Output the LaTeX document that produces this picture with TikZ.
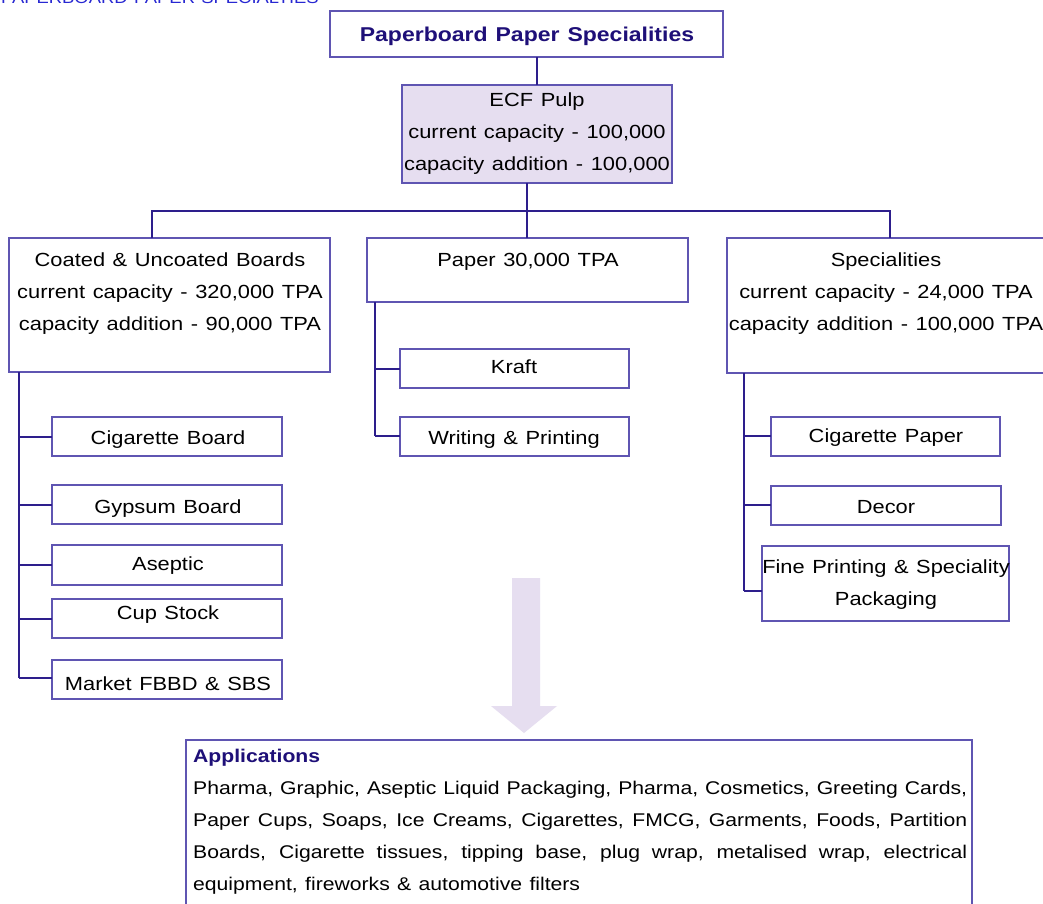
\documentclass[tikz,border=0pt]{standalone}
\usepackage{fontspec}
\setmainfont{Liberation Sans}[FakeStretch=1.15,WordSpace=1.25]
\definecolor{bord}{RGB}{95,85,178}
\definecolor{conn}{RGB}{45,30,140}
\definecolor{navy}{RGB}{30,15,120}
\definecolor{lav}{RGB}{230,222,240}
\definecolor{hdr}{RGB}{40,40,210}
\tikzset{
  boxst/.style={draw=bord, line width=1.2pt, inner sep=0pt, outer sep=0pt},
  lnk/.style={draw=conn, line width=1.2pt},
  txt/.style={inner sep=0pt, outer sep=0pt, align=center, yshift=-3pt, font=\fontsize{19}{32}\selectfont, text=black},
}
\newcommand\mybox[6][]{%
  \node[boxst,#1, minimum width={(#5-#3)*1pt}, minimum height={(#6-#4)*1pt}] (#2) at ({(#3+#5)/2},{(#4+#6)/2}) {};}
\newcommand\fullline[1]{\makebox[774pt][s]{#1}}
\begin{document}
\begin{tikzpicture}[x=1pt,y=-1pt]
\useasboundingbox (0,0) rectangle (1043,903);
\clip (0,0) rectangle (1043,903);
\fill[white] (0,0) rectangle (1043,903);
% header
\node[anchor=base west, inner sep=0pt, text=hdr, font=\fontsize{16}{16}\selectfont] (hdr) at (1,3) {PAPERBOARD PAPER SPECIALTIES};
% top boxes
\mybox{title}{330}{11}{723}{57}
\node[txt, text=navy, font=\fontsize{20}{24}\selectfont\bfseries] (titleT) at (527,33) {Paperboard Paper Specialities};
\mybox[fill=lav]{ecf}{402}{85}{672}{183}
\node[txt] (ecfT) at (537,131) {ECF Pulp\\current capacity - 100,000\\capacity addition - 100,000};
\mybox{coated}{9}{238}{330}{372}
\node[txt] (coatedT) at (170,291) {Coated \& Uncoated Boards\\current capacity - 320,000 TPA\\capacity addition - 90,000 TPA};
\mybox{paper}{367}{238}{688}{302}
\node[txt] (paperT) at (528,259) {Paper 30,000 TPA};
\mybox{spec}{727}{238}{1060}{373}
\node[txt] (specT) at (886,291) {Specialities\\current capacity - 24,000 TPA\\capacity addition - 100,000 TPA};
% coated children
\mybox{cb}{52}{417}{282}{456}
\node[txt] (cbT) at (168,437) {Cigarette Board};
\mybox{gb}{52}{485}{282}{524}
\node[txt] (gbT) at (168,506) {Gypsum Board};
\mybox{as}{52}{545}{282}{585}
\node[txt] (asT) at (168,563) {Aseptic};
\mybox{cs}{52}{599}{282}{638}
\node[txt] (csT) at (168,612) {Cup Stock};
\mybox{mk}{52}{660}{282}{699}
\node[txt] (mkT) at (168,681) {Market FBBD \& SBS};
% paper children
\mybox{kr}{400}{349}{629}{388}
\node[txt] (krT) at (514,364) {Kraft};
\mybox{wp}{400}{417}{629}{456}
\node[txt] (wpT) at (514,437) {Writing \& Printing};
% spec children
\mybox{cp}{771}{417}{1000}{456}
\node[txt] (cpT) at (886,435) {Cigarette Paper};
\mybox{dc}{771}{486}{1001}{525}
\node[txt] (dcT) at (886,504) {Decor};
\mybox{fp}{762}{546}{1009}{621}
\node[txt] (fpT) at (886,582) {Fine Printing \& Speciality\\Packaging};
% connectors
\draw[lnk] (title.south -| ecf.north) -- (ecf.north);
\coordinate (bus) at (527,211);
\coordinate (busL) at (152,211);
\coordinate (busR) at (890,211);
\draw[lnk] (ecf.south -| bus) -- (bus);
\draw[lnk] (busL |- coated.north) -- (busL) -- (busR) -- (busR |- spec.north);
\draw[lnk] (bus) -- (bus |- paper.north);
\coordinate (vL) at (19,372);
\draw[lnk] (vL) -- (19,678);
\draw[lnk] (19,437) -- (19,437 -| cb.west);
\draw[lnk] (19,505) -- (19,505 -| gb.west);
\draw[lnk] (19,565) -- (19,565 -| as.west);
\draw[lnk] (19,619) -- (19,619 -| cs.west);
\draw[lnk] (19,678) -- (19,678 -| mk.west);
\draw[lnk] (375,302) -- (375,436);
\draw[lnk] (375,369) -- (375,369 -| kr.west);
\draw[lnk] (375,436) -- (375,436 -| wp.west);
\draw[lnk] (744,373) -- (744,591);
\draw[lnk] (744,436) -- (744,436 -| cp.west);
\draw[lnk] (744,505) -- (744,505 -| dc.west);
\draw[lnk] (744,591) -- (744,591 -| fp.west);
% big arrow
\fill[lav] (512,578) -- (540,578) -- (540,706) -- (557,706) -- (524,733) -- (491,706) -- (512,706) -- cycle;
% applications
\mybox{app}{186}{740}{972}{930}
\node[inner sep=0pt, anchor=north west, align=left, font=\fontsize{18.4}{32}\selectfont] (appT) at (193,749) {{\color{navy}\bfseries Applications}\\
\fullline{Pharma, Graphic, Aseptic Liquid Packaging, Pharma, Cosmetics, Greeting Cards,}\\
\fullline{Paper Cups, Soaps, Ice Creams, Cigarettes, FMCG, Garments, Foods, Partition}\\
\fullline{Boards, Cigarette tissues, tipping base, plug wrap, metalised wrap, electrical}\\
equipment, fireworks \& automotive filters};
\end{tikzpicture}
\end{document}
